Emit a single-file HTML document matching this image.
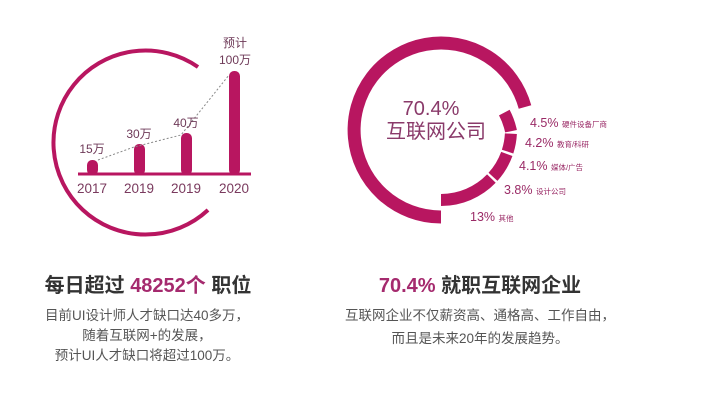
<!DOCTYPE html>
<html><head><meta charset="utf-8"><style>
html,body{margin:0;padding:0;background:#fff;}
svg{display:block;}
text{font-family:"Liberation Sans","Noto Sans CJK SC",sans-serif;}
</style></head><body>
<svg width="708" height="405" viewBox="0 0 708 405" xmlns="http://www.w3.org/2000/svg">
<path d="M198 67 A92 92 0 1 0 208 210" fill="none" stroke="#b81660" stroke-width="4"/>
<line x1="78" y1="174" x2="251" y2="174" stroke="#b81660" stroke-width="3"/>
<g fill="#b81660">
<rect x="87" y="160" width="11" height="15" rx="5"/>
<rect x="134" y="144" width="11" height="31" rx="5"/>
<rect x="181" y="133" width="11" height="42" rx="5"/>
<rect x="229" y="71" width="11" height="104" rx="5"/>
</g>
<polyline points="98,160 134,147 181,135 229,75" fill="none" stroke="#888" stroke-width="1" stroke-dasharray="2,2"/>
<g fill="#7a3a5e" font-size="13.5" text-anchor="middle">
<text x="92" y="193">2017</text><text x="139" y="193">2019</text><text x="186" y="193">2019</text><text x="234" y="193">2020</text>
</g>
<g fill="#6e3a58" font-size="12" text-anchor="middle">
<text x="92" y="153">15万</text><text x="139" y="138">30万</text><text x="186" y="127">40万</text>
<text x="235" y="47">预计</text><text x="235" y="64">100万</text>
</g>
<path d="M441 217 A87 87 0 1 1 525 107" fill="none" stroke="#b81660" stroke-width="13"/>
<g fill="none" stroke="#b81660" stroke-width="12">
<path d="M504.3 112.6 A70 70 0 0 1 511 131.2"/>
<path d="M510.9 133.7 A70 70 0 0 1 507.6 151.6"/>
<path d="M506.8 153.9 A70 70 0 0 1 493 176.8"/>
<path d="M491.4 178.6 A70 70 0 0 1 441 200"/>
</g>
<g fill="#8a3a6a" text-anchor="middle" font-size="20">
<text x="431" y="115">70.4%</text>
<text x="436" y="138">互联网公司</text>
</g>
<g fill="#9a2a66" font-size="12.5">
<text x="530" y="127">4.5% <tspan font-size="7.5">硬件设备厂商</tspan></text>
<text x="525" y="147">4.2% <tspan font-size="7.5">教育/科研</tspan></text>
<text x="519" y="170">4.1% <tspan font-size="7.5">媒体/广告</tspan></text>
<text x="504" y="194">3.8% <tspan font-size="7.5">设计公司</tspan></text>
<text x="470" y="221">13% <tspan font-size="7.5">其他</tspan></text>
</g>
<text x="148" y="292" text-anchor="middle" font-size="20" font-weight="bold" fill="#333">每日超过 <tspan fill="#a52a6e">48252个</tspan> 职位</text>
<g font-size="13.5" fill="#555" text-anchor="middle">
<text x="147" y="320">目前UI设计师人才缺口达40多万，</text>
<text x="147" y="340">随着互联网+的发展，</text>
<text x="147" y="360">预计UI人才缺口将超过100万。</text>
</g>
<text x="480" y="292" text-anchor="middle" font-size="20" font-weight="bold" fill="#333"><tspan fill="#a52a6e">70.4%</tspan> 就职互联网企业</text>
<g font-size="13.5" fill="#555" text-anchor="middle">
<text x="480" y="320">互联网企业不仅薪资高、通格高、工作自由，</text>
<text x="480" y="343">而且是未来20年的发展趋势。</text>
</g>
</svg>
</body></html>
